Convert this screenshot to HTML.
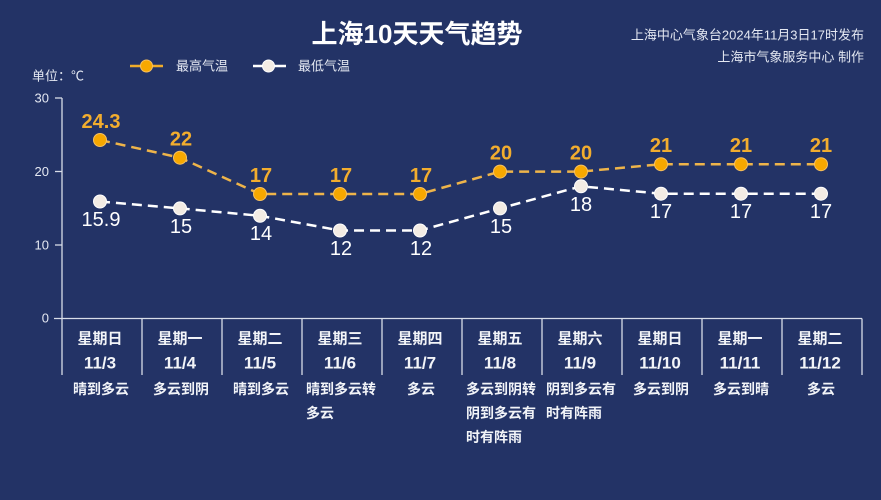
<!DOCTYPE html>
<html><head><meta charset="utf-8"><style>
html,body{margin:0;padding:0;background:#233366;}
svg{display:block;}
text{font-family:"Liberation Sans","Noto Sans CJK SC",sans-serif;}
</style></head><body>
<svg width="881" height="500" viewBox="0 0 881 500" xmlns="http://www.w3.org/2000/svg">
<rect width="881" height="500" fill="#233366"/>
<!-- title -->
<text x="417" y="34" text-anchor="middle" dominant-baseline="central" font-size="26" font-weight="bold" fill="#ffffff">上海10天天气趋势</text>
<text x="864" y="35" text-anchor="end" dominant-baseline="central" font-size="13" fill="#e4e8f2">上海中心气象台2024年11月3日17时发布</text>
<text x="864" y="57" text-anchor="end" dominant-baseline="central" font-size="13" fill="#e4e8f2">上海市气象服务中心 制作</text>
<!-- legend -->
<line x1="130" y1="66" x2="163" y2="66" stroke="#f0ac2a" stroke-width="2.5"/>
<circle cx="146.5" cy="66" r="6" fill="#f7a800" stroke="#f7c060" stroke-width="1"/>
<text x="176" y="66" dominant-baseline="central" font-size="13" fill="#e4e8f2">最高气温</text>
<line x1="253" y1="66" x2="286" y2="66" stroke="#ffffff" stroke-width="2.5"/>
<circle cx="268.5" cy="66" r="6" fill="#f3ece4" stroke="#ffffff" stroke-width="1"/>
<text x="298" y="66" dominant-baseline="central" font-size="13" fill="#e4e8f2">最低气温</text>
<!-- unit -->
<text x="32" y="76" dominant-baseline="central" font-size="13" fill="#e4e8f2">单位：℃</text>
<!-- y axis -->
<g stroke="#d8dde8" stroke-width="1.3">
<line x1="62" y1="98" x2="62" y2="375"/>
<line x1="55" y1="98" x2="62" y2="98"/>
<line x1="55" y1="171.5" x2="62" y2="171.5"/>
<line x1="55" y1="245" x2="62" y2="245"/>
<line x1="54" y1="318.5" x2="862" y2="318.5"/>
<line x1="142" y1="318.5" x2="142" y2="375"/>
<line x1="222" y1="318.5" x2="222" y2="375"/>
<line x1="302" y1="318.5" x2="302" y2="375"/>
<line x1="382" y1="318.5" x2="382" y2="375"/>
<line x1="462" y1="318.5" x2="462" y2="375"/>
<line x1="542" y1="318.5" x2="542" y2="375"/>
<line x1="622" y1="318.5" x2="622" y2="375"/>
<line x1="702" y1="318.5" x2="702" y2="375"/>
<line x1="782" y1="318.5" x2="782" y2="375"/>
<line x1="862" y1="318.5" x2="862" y2="375"/>
</g>
<g font-size="13" fill="#e4e8f2" text-anchor="end" dominant-baseline="central">
<text x="49" y="98">30</text>
<text x="49" y="171.5">20</text>
<text x="49" y="245">10</text>
<text x="49" y="318">0</text>
</g>
<!-- series lines -->
<polyline fill="none" stroke="#eeb44a" stroke-width="2.5" stroke-dasharray="10 6" points="100,140 180,157.7 260,194 340,194 420,194 500,171.6 581,171.6 661,164.2 741,164.2 821,164.2"/>
<polyline fill="none" stroke="#ffffff" stroke-width="2.5" stroke-dasharray="10 6" points="100,201.5 180,208.4 260,215.8 340,230.5 420,230.5 500,208.4 581,186.3 661,193.7 741,193.7 821,193.7"/>
<!-- markers high -->
<g fill="#f7a800" stroke="#f7c060" stroke-width="1">
<circle cx="100" cy="140" r="6.5"/><circle cx="180" cy="157.7" r="6.5"/><circle cx="260" cy="194" r="6.5"/><circle cx="340" cy="194" r="6.5"/><circle cx="420" cy="194" r="6.5"/><circle cx="500" cy="171.6" r="6.5"/><circle cx="581" cy="171.6" r="6.5"/><circle cx="661" cy="164.2" r="6.5"/><circle cx="741" cy="164.2" r="6.5"/><circle cx="821" cy="164.2" r="6.5"/>
</g>
<g fill="#f3ece4" stroke="#ffffff" stroke-width="1">
<circle cx="100" cy="201.5" r="6.5"/><circle cx="180" cy="208.4" r="6.5"/><circle cx="260" cy="215.8" r="6.5"/><circle cx="340" cy="230.5" r="6.5"/><circle cx="420" cy="230.5" r="6.5"/><circle cx="500" cy="208.4" r="6.5"/><circle cx="581" cy="186.3" r="6.5"/><circle cx="661" cy="193.7" r="6.5"/><circle cx="741" cy="193.7" r="6.5"/><circle cx="821" cy="193.7" r="6.5"/>
</g>
<!-- high labels -->
<g font-size="20" font-weight="bold" fill="#f2ad2e" text-anchor="middle" dominant-baseline="central">
<text x="101" y="122">24.3</text><text x="181" y="139.5">22</text><text x="261" y="176">17</text><text x="341" y="176">17</text><text x="421" y="176">17</text><text x="501" y="153.5">20</text><text x="581" y="153.5">20</text><text x="661" y="146">21</text><text x="741" y="146">21</text><text x="821" y="146">21</text>
</g>
<!-- low labels -->
<g font-size="20" fill="#ffffff" text-anchor="middle" dominant-baseline="central">
<text x="101" y="220">15.9</text><text x="181" y="227">15</text><text x="261" y="234">14</text><text x="341" y="249">12</text><text x="421" y="249">12</text><text x="501" y="227">15</text><text x="581" y="205">18</text><text x="661" y="212">17</text><text x="741" y="212">17</text><text x="821" y="212">17</text>
</g>
<!-- categories -->
<g font-size="15" font-weight="bold" fill="#f2f4f8" text-anchor="middle" dominant-baseline="central">
<text x="100" y="339">星期日</text><text x="180" y="339">星期一</text><text x="260" y="339">星期二</text><text x="340" y="339">星期三</text><text x="420" y="339">星期四</text><text x="500" y="339">星期五</text><text x="580" y="339">星期六</text><text x="660" y="339">星期日</text><text x="740" y="339">星期一</text><text x="820" y="339">星期二</text>
</g>
<g font-size="17" font-weight="bold" fill="#f2f4f8" text-anchor="middle" dominant-baseline="central">
<text x="100" y="363">11/3</text><text x="180" y="363">11/4</text><text x="260" y="363">11/5</text><text x="340" y="363">11/6</text><text x="420" y="363">11/7</text><text x="500" y="363">11/8</text><text x="580" y="363">11/9</text><text x="660" y="363">11/10</text><text x="740" y="363">11/11</text><text x="820" y="363">11/12</text>
</g>
<g font-size="14" font-weight="bold" fill="#f2f4f8" dominant-baseline="central">
<text x="101" y="389" text-anchor="middle">晴到多云</text>
<text x="181" y="389" text-anchor="middle">多云到阴</text>
<text x="261" y="389" text-anchor="middle">晴到多云</text>
<text x="306" y="389">晴到多云转</text>
<text x="306" y="413">多云</text>
<text x="421" y="389" text-anchor="middle">多云</text>
<text x="466" y="389">多云到阴转</text>
<text x="466" y="413">阴到多云有</text>
<text x="466" y="437">时有阵雨</text>
<text x="546" y="389">阴到多云有</text>
<text x="546" y="413">时有阵雨</text>
<text x="661" y="389" text-anchor="middle">多云到阴</text>
<text x="741" y="389" text-anchor="middle">多云到晴</text>
<text x="821" y="389" text-anchor="middle">多云</text>
</g>
</svg>
</body></html>
